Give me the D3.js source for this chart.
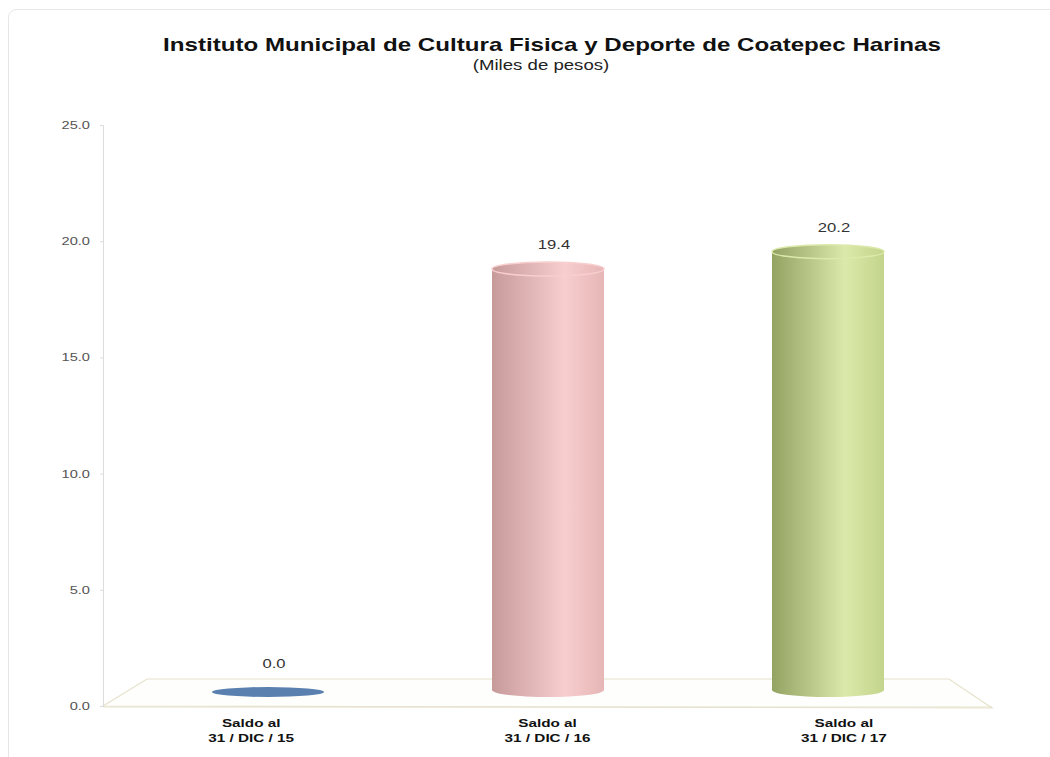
<!DOCTYPE html>
<html><head><meta charset="utf-8">
<script src="https://cdn.jsdelivr.net/npm/d3@7"></script>
<style>body{margin:0;background:#fff;font-family:"Liberation Sans",Arial,sans-serif}</style>
</head><body><svg id="c" width="1050" height="757"></svg>
<script>
const categories = [["Saldo al","31 / DIC / 15"],["Saldo al","31 / DIC / 16"],["Saldo al","31 / DIC / 17"]];
const values = [0.0, 19.4, 20.2];
const valueLabels = ["0.0","19.4","20.2"];
const yTicks = [0,5,10,15,20,25];
const colors = [["#3f6490","#6a92c4","#5a80b0"],["#c79a9a","#f8cece","#e6b6b6"],["#93a362","#dbe9aa","#c3d58c"]];
const SX = 1.33; // horizontal stretch of the text in the picture

const svg = d3.select("#c");
svg.append("rect").attr("x",8.5).attr("y",9.5).attr("width",1060).attr("height",760).attr("rx",8)
  .attr("fill","#fff").attr("stroke","#e6e6e6");

const y = d3.scaleLinear().domain([0,25]).range([706,125]);
const yBar = d3.scaleLinear().domain([0,25]).range([690,147.5]);
const x = d3.scaleBand().domain(d3.range(categories.length)).range([128,968]).paddingInner(0.6).paddingOuter(0.3);
const xLab = d3.scaleBand().domain(d3.range(categories.length)).range([103,992]);

function stext(px,py,str,size,weight,fill,anchor,sx){
  return svg.append("text").attr("transform",`translate(${px},${py}) scale(${sx||SX},1)`)
    .attr("text-anchor",anchor||"middle").attr("font-size",size).attr("font-weight",weight||"normal")
    .attr("fill",fill).text(str);
}

stext(552,51,"Instituto Municipal de Cultura Fisica y Deporte de Coatepec Harinas",17.5,"bold","#111","middle",1.38);
stext(541,70,"(Miles de pesos)",14,"normal","#222");

// floor
const floor = svg.append("g");
floor.append("path").attr("d",`M103,${y(0)} L147,${y(0)-27} L949,${y(0)-27} L992,${y(0)+2} Z`)
  .attr("fill","#fefefd").attr("stroke","#e6e2cc").attr("stroke-width",1.2);
floor.append("line").attr("x1",103).attr("x2",992).attr("y1",y(0)+1).attr("y2",y(0)+1)
  .attr("stroke","#e6e2cc").attr("stroke-width",1.2);

// y axis
const ax = svg.append("g").attr("transform","translate(103,0)").call(d3.axisLeft(y).tickValues(yTicks).tickFormat(()=>"").tickSize(3));
ax.select(".domain").attr("stroke","#dcdcdc");
ax.selectAll(".tick line").attr("stroke","#dcdcdc");
yTicks.forEach(t=>{
  stext(90,y(t)+4,d3.format(".1f")(t),11,"normal","#555","end");
});

const defs = svg.append("defs");
colors.forEach((c,i)=>{
  const g = defs.append("linearGradient").attr("id","g"+i).attr("x1","0").attr("x2","1").attr("y1","0").attr("y2","0");
  g.append("stop").attr("offset","0").attr("stop-color",c[0]);
  g.append("stop").attr("offset","0.65").attr("stop-color",c[1]);
  g.append("stop").attr("offset","1").attr("stop-color",c[2]);
});

const bw = x.bandwidth();
values.forEach((v,i)=>{
  const cx = x(i)+bw/2, rx = bw/2;
  const yb = yBar(0), yt = yBar(v);
  const g = svg.append("g");
  if (v===0){
    g.append("ellipse").attr("cx",cx).attr("cy",yb+2).attr("rx",rx).attr("ry",5).attr("fill",colors[i][2]);
  } else {
    const ry=7;
    g.append("path").attr("d",`M${cx-rx},${yt} L${cx-rx},${yb} A${rx},${ry} 0 0 0 ${cx+rx},${yb} L${cx+rx},${yt} Z`)
      .attr("fill",`url(#g${i})`);
    g.append("ellipse").attr("cx",cx).attr("cy",yt).attr("rx",rx).attr("ry",ry).attr("fill",`url(#g${i})`)
      .attr("stroke",colors[i][1]).attr("stroke-width",1.5);
  }
  stext(cx+6,(v===0?668:yt-20),valueLabels[i],12.5,"normal","#333");
  const lx = xLab(i)+xLab.bandwidth()/2;
  stext(lx,727,categories[i][0],11.5,"bold","#111");
  stext(lx,742,categories[i][1],11.5,"bold","#111");
});
</script></body></html>
